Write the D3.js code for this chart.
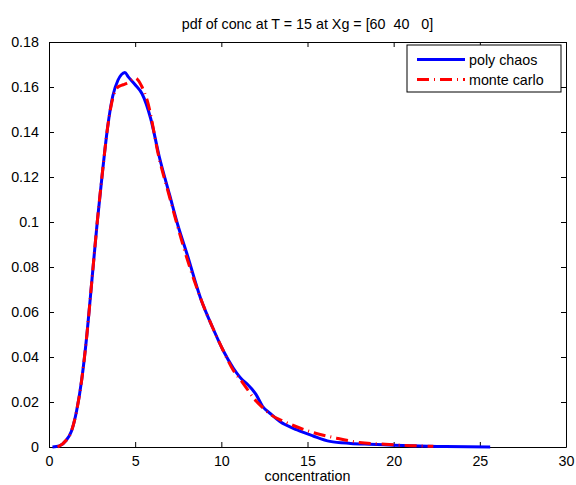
<!DOCTYPE html>
<html>
<head>
<meta charset="utf-8">
<script src="https://cdn.jsdelivr.net/npm/d3@7"></script>
<style>
  body { margin: 0; background: #fff; }
  svg { font-family: "Liberation Sans", Arial, sans-serif; }
</style>
</head>
<body>
<script>
var width = 576,
    height = 485;

var margin = {top: 42, right: 10, bottom: 38, left: 49};

// poly chaos curve
var pcX = [0.2, 0.6, 1.0, 1.3, 1.6, 1.9, 2.2, 2.5, 2.8, 3.1, 3.4, 3.7, 4.0, 4.2, 4.4, 4.6, 5.0, 5.4, 5.9, 6.4,
           7.0, 7.5, 8.0, 8.8, 9.5, 10.1, 10.7, 11.2, 11.5, 12.0, 12.4, 12.9, 13.4, 14.4, 15.3, 16.3, 17.5, 18.6,
           20.0, 21.5, 23.0, 25.6];
var pcY = [0, 0.0005, 0.003, 0.007, 0.016, 0.030, 0.050, 0.075, 0.100, 0.122, 0.142, 0.156, 0.163, 0.1655, 0.1665,
           0.1645, 0.161, 0.157, 0.146, 0.129, 0.112, 0.098, 0.086, 0.066, 0.053, 0.043, 0.035, 0.030, 0.028,
           0.0235, 0.018, 0.0145, 0.0113, 0.0076, 0.005, 0.0025, 0.0016, 0.0012, 0.0008, 0.0004, 0.0002, 0];

// monte carlo curve
var mcX = [0.5, 1.0, 1.3, 1.6, 1.9, 2.2, 2.5, 2.8, 3.1, 3.4, 3.7, 4.0, 4.3, 4.6, 5.0, 5.4, 5.7, 6.4, 7.0, 7.5,
           8.0, 8.8, 9.5, 10.1, 10.7, 11.2, 11.95, 12.4, 12.9, 13.5, 14.1, 15.3, 16.7, 18.0, 19.5, 21.0, 22.3];
var mcY = [0, 0.003, 0.007, 0.016, 0.030, 0.050, 0.075, 0.100, 0.122, 0.142, 0.155, 0.160, 0.161, 0.162, 0.164,
           0.160, 0.154, 0.128, 0.111, 0.097, 0.084, 0.066, 0.053, 0.043, 0.034, 0.029, 0.021, 0.0175, 0.0142,
           0.0118, 0.0098, 0.0065, 0.0039, 0.002, 0.0012, 0.0006, 0.0003];

var xTicks = [0, 5, 10, 15, 20, 25, 30];
var yTicks = [0, 0.02, 0.04, 0.06, 0.08, 0.1, 0.12, 0.14, 0.16, 0.18];
var legendNames = ["poly chaos", "monte carlo"];

var fontSize = 14.3;

var w = width - margin.left - margin.right,
    h = height - margin.top - margin.bottom;

var x = d3.scaleLinear().domain([0, 30]).range([0, w]);
var y = d3.scaleLinear().domain([0, 0.18]).range([h, 0]);

var svg = d3.select("body").append("svg")
    .attr("width", width)
    .attr("height", height);

var g = svg.append("g")
    .attr("transform", "translate(" + margin.left + "," + margin.top + ")");

var fmt = function(d) { return d3.format("")(+d.toFixed(2)); };

// axes, matlab style ticks pointing inwards
g.append("g")
    .attr("transform", "translate(0," + h + ")")
    .call(d3.axisBottom(x).tickValues(xTicks).tickSizeInner(-5).tickSizeOuter(0).tickPadding(9));
g.append("g")
    .call(d3.axisTop(x).tickValues(xTicks).tickSizeInner(-5).tickSizeOuter(0).tickFormat(""));
g.append("g")
    .call(d3.axisLeft(y).tickValues(yTicks).tickSizeInner(-5).tickSizeOuter(0).tickPadding(10).tickFormat(fmt));
g.append("g")
    .attr("transform", "translate(" + w + ",0)")
    .call(d3.axisRight(y).tickValues(yTicks).tickSizeInner(-5).tickSizeOuter(0).tickFormat(""));

g.selectAll(".domain").attr("stroke", "#000");
g.selectAll(".tick line").attr("stroke", "#000");
g.selectAll(".tick text").attr("font-size", fontSize).attr("fill", "#000")
    .attr("font-family", "Liberation Sans, Arial, sans-serif");

var line = d3.line()
    .x(function(d) { return x(d[0]); })
    .y(function(d) { return y(d[1]); })
    .curve(d3.curveMonotoneX);

var pc = pcX.map(function(d, i) { return [d, pcY[i]]; });
var mc = mcX.map(function(d, i) { return [d, mcY[i]]; });

g.append("path")
    .datum(pc)
    .attr("fill", "none")
    .attr("stroke", "#0000ff")
    .attr("stroke-width", 3)
    .attr("d", line);

g.append("path")
    .datum(mc)
    .attr("fill", "none")
    .attr("stroke", "#ff0000")
    .attr("stroke-width", 3)
    .attr("stroke-dasharray", "12,5,1,5")
    .attr("d", line);

// title and label
svg.append("text")
    .attr("x", margin.left + w / 2)
    .attr("y", 29)
    .attr("text-anchor", "middle")
    .attr("font-size", fontSize)
    .text("pdf of conc at T = 15 at Xg = [60\u00a0\u00a040\u00a0\u00a0\u00a00]");

svg.append("text")
    .attr("x", margin.left + w / 2)
    .attr("y", 481)
    .attr("text-anchor", "middle")
    .attr("font-size", fontSize)
    .text("concentration");

// legend
var lg = svg.append("g").attr("transform", "translate(407,45)");
lg.append("rect")
    .attr("width", 154)
    .attr("height", 47)
    .attr("fill", "#fff")
    .attr("stroke", "#000");

var styles = [{c: "#0000ff", dash: null}, {c: "#ff0000", dash: "12,5,1,5"}];
legendNames.forEach(function(name, i) {
  var yy = 14.5 + i * 20;
  lg.append("line")
      .attr("x1", 10).attr("x2", 58)
      .attr("y1", yy).attr("y2", yy)
      .attr("stroke", styles[i].c)
      .attr("stroke-width", 3)
      .attr("stroke-dasharray", styles[i].dash);
  lg.append("text")
      .attr("x", 62)
      .attr("y", yy + 5)
      .attr("font-size", fontSize)
      .text(name);
});
</script>
</body>
</html>
